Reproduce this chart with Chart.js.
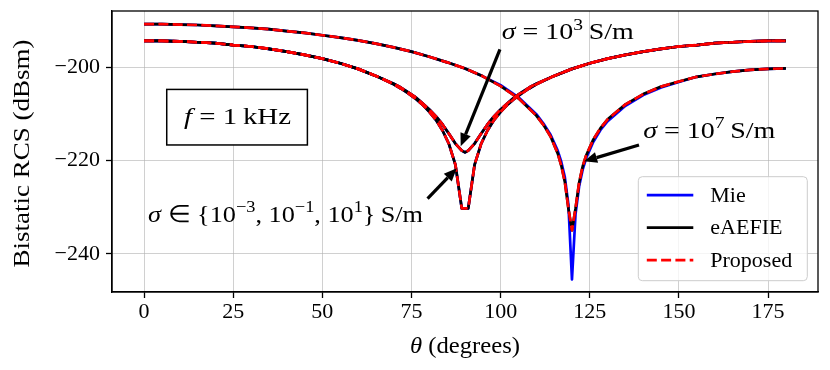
<!DOCTYPE html>
<html>
<head>
<meta charset="utf-8">
<script src="https://cdn.jsdelivr.net/npm/chart.js@4.4.0/dist/chart.umd.min.js"></script>
<style>
  html, body { margin: 0; padding: 0; background: #fff; }
</style>
</head>
<body>
<canvas id="rcsChart" width="830" height="370"></canvas>
<script>
// --- Data ---
const thetaTicks = [0, 25, 50, 75, 100, 125, 150, 175];
const rcsTicks = [-240, -220, -200];

// sigma = 1e7 S/m, null near 120 deg
const thetaPec = [0, 5, 10, 15, 20, 25, 30, 35, 40, 45, 50, 55, 60, 65, 70, 75, 80, 85, 90, 95, 100, 105, 110,
    112, 114, 116, 117, 118, 119, 120, 121, 122, 123, 124, 126, 128, 130,
    135, 140, 145, 150, 155, 160, 165, 170, 175, 180];
const aefiePec = [-190.8, -190.8, -190.9, -191.0, -191.2, -191.4, -191.6, -191.9, -192.3, -192.7, -193.2, -193.7,
    -194.3, -195.0, -195.8, -196.7, -197.8, -199.0, -200.3, -202.0, -204.1, -206.7, -210.4,
    -212.4, -214.9, -218.5, -221.1, -224.6, -230.3, -235.0, -230.3, -224.8, -221.3, -218.9, -215.5, -213.1, -211.2,
    -208.0, -205.8, -204.2, -203.1, -202.1, -201.5, -201.0, -200.6, -200.4, -200.3];
const miePec = [-190.8, -190.8, -190.9, -191.0, -191.2, -191.4, -191.6, -191.9, -192.3, -192.7, -193.2, -193.7,
    -194.3, -195.0, -195.8, -196.7, -197.8, -199.0, -200.3, -202.0, -203.9, -206.5, -210.1,
    -212.1, -214.5, -217.9, -220.3, -223.6, -229.5, -245.5, -231.5, -225.6, -222.0, -219.5, -216.0, -213.5, -211.6,
    -208.3, -206.0, -204.4, -203.2, -202.1, -201.5, -201.0, -200.6, -200.4, -200.3];
const proposedPec = aefiePec.slice(); // overlaps eAEFIE everywhere

// lossy spheres, null near 90 deg (all three methods overlap)
const thetaLossy = [0, 5, 10, 15, 20, 25, 30, 35, 40, 45, 50, 55, 60, 65, 70,
    72, 74, 76, 78, 80, 82, 83.7, 85.5, 87.3, 89.1, 90, 90.9, 92.7, 94.5, 96.3,
    98, 100, 102, 104, 106, 108, 110,
    115, 120, 125, 130, 135, 140, 145, 150, 155, 160, 165, 170, 175, 180];
// sigma in {1e-3, 1e-1, 1e1} S/m
const rcsLowSigma = [-194.4, -194.4, -194.5, -194.7, -194.9, -195.3, -195.6, -196.1, -196.7, -197.4, -198.2, -199.2, -200.4, -201.9, -203.7,
    -204.6, -205.6, -206.7, -208.0, -209.6, -211.5, -213.6, -216.5, -220.9, -230.3, -230.3, -230.3, -220.9, -216.5, -213.6,
    -211.5, -209.6, -208.0, -206.7, -205.6, -204.6, -203.7,
    -201.9, -200.4, -199.2, -198.2, -197.4, -196.7, -196.1, -195.6, -195.3, -194.9, -194.7, -194.5, -194.4, -194.4];
// sigma = 1e3 S/m
const rcsSigma1e3 = [-194.4, -194.4, -194.5, -194.7, -194.9, -195.3, -195.6, -196.1, -196.7, -197.4, -198.2, -199.2, -200.4, -201.9, -203.6,
    -204.4, -205.4, -206.4, -207.7, -209.1, -210.7, -212.3, -214.3, -216.4, -217.9, -218.3, -217.9, -216.4, -214.3, -212.3,
    -210.7, -209.1, -207.7, -206.4, -205.4, -204.4, -203.6,
    -201.9, -200.4, -199.2, -198.2, -197.4, -196.7, -196.1, -195.6, -195.3, -194.9, -194.7, -194.5, -194.4, -194.4];

// --- Styling ---
const FONT = "'Liberation Serif', 'Times New Roman', serif";
const GRID = 'rgba(176, 176, 176, 0.6)';

const methods = [
    { key: 'mie', label: 'Mie', color: '#0000ff', dash: [], order: 3 },
    { key: 'aefie', label: 'eAEFIE', color: '#000000', dash: [], order: 2 },
    { key: 'proposed', label: 'Proposed', color: '#ff0000', dash: [10, 4.3], order: 1 }
];

const curves = [
    { theta: thetaPec, mie: miePec, aefie: aefiePec, proposed: proposedPec },
    { theta: thetaLossy, mie: rcsSigma1e3, aefie: rcsSigma1e3, proposed: rcsSigma1e3 },
    { theta: thetaLossy, mie: rcsLowSigma, aefie: rcsLowSigma, proposed: rcsLowSigma }
];

const datasets = [];
methods.forEach(m => {
    curves.forEach(c => {
        datasets.push({
            label: m.label,
            data: c.theta.map((t, i) => ({ x: t, y: c[m.key][i] })),
            borderColor: m.color,
            borderDash: m.dash,
            borderWidth: 2.7,
            borderJoinStyle: 'round',
            pointRadius: 0,
            tension: 0,
            fill: false,
            order: m.order
        });
    });
});

// --- Annotations (placed in data coordinates) ---
const notes = [
    { runs: [{ t: 'σ', it: true }, { t: ' = 10' }, { t: '3', sup: true }, { t: '\u2009S/m' }],
      at: [100.3, -194.1], width: 132, tail: [99.8, -196.2], head: [88.8, -217.0] },
    { runs: [{ t: 'σ', it: true }, { t: ' = 10' }, { t: '7', sup: true }, { t: '\u2009S/m' }],
      at: [140.0, -215.2], width: 132, tail: [138.8, -216.7], head: [123.4, -220.2] },
    { runs: [{ t: 'σ', it: true }, { t: ' \u2208 {10' }, { t: '\u22123', sup: true }, { t: ', 10' },
             { t: '\u22121', sup: true }, { t: ', 10' }, { t: '1', sup: true }, { t: '}\u2009S/m' }],
      at: [1.1, -233.2], width: 275, tail: [79.5, -228.2], head: [87.7, -221.7] }
];

function drawRuns(ctx, runs, x, y, size, targetW, align) {
    const fontFor = r => (r.it ? 'italic ' : '') + (r.sup ? size * 0.7 : size) + 'px ' + FONT;
    let total = 0;
    const widths = runs.map(r => {
        ctx.font = fontFor(r);
        const w = ctx.measureText(r.t).width;
        total += w;
        return w;
    });
    const sx = targetW ? targetW / total : 1;
    ctx.save();
    ctx.translate(align === 'center' ? x - total * sx / 2 : x, y);
    ctx.scale(sx, 1);
    ctx.fillStyle = '#000';
    ctx.textBaseline = 'alphabetic';
    ctx.textAlign = 'left';
    let cx = 0;
    runs.forEach((r, i) => {
        ctx.font = fontFor(r);
        ctx.fillText(r.t, cx, r.sup ? -size * 0.4 : 0);
        cx += widths[i];
    });
    ctx.restore();
}

function drawArrow(ctx, x0, y0, x1, y1) {
    const ang = Math.atan2(y1 - y0, x1 - x0);
    const headLen = 13, headW = 5.5;
    const bx = x1 - headLen * Math.cos(ang), by = y1 - headLen * Math.sin(ang);
    ctx.save();
    ctx.strokeStyle = '#000';
    ctx.fillStyle = '#000';
    ctx.lineWidth = 3.2;
    ctx.beginPath();
    ctx.moveTo(x0, y0);
    ctx.lineTo(bx, by);
    ctx.stroke();
    ctx.beginPath();
    ctx.moveTo(x1, y1);
    ctx.lineTo(bx + headW * Math.sin(ang), by - headW * Math.cos(ang));
    ctx.lineTo(bx - headW * Math.sin(ang), by + headW * Math.cos(ang));
    ctx.closePath();
    ctx.fill();
    ctx.restore();
}

const overlay = {
    id: 'overlay',
    afterDatasetsDraw(chart) {
        const ctx = chart.ctx;
        const xs = chart.scales.x, ys = chart.scales.y;
        const px = v => xs.getPixelForValue(v), py = v => ys.getPixelForValue(v);

        notes.forEach(n => {
            drawRuns(ctx, n.runs, px(n.at[0]), py(n.at[1]), 24, n.width, 'left');
            drawArrow(ctx, px(n.tail[0]), py(n.tail[1]), px(n.head[0]), py(n.head[1]));
        });

        // f = 1 kHz box
        const bx0 = px(6.35), bx1 = px(45.8), by0 = py(-204.8), by1 = py(-216.7);
        ctx.save();
        ctx.fillStyle = '#fff';
        ctx.fillRect(bx0, by0, bx1 - bx0, by1 - by0);
        ctx.strokeStyle = '#000';
        ctx.lineWidth = 1.5;
        ctx.strokeRect(bx0, by0, bx1 - bx0, by1 - by0);
        ctx.restore();
        drawRuns(ctx, [{ t: 'f', it: true }, { t: ' = 1\u2009kHz' }], px(26.2), py(-212.2), 24, 107, 'center');
    },
    afterDraw(chart) {
        const ctx = chart.ctx;
        const ca = chart.chartArea;

        // full frame
        ctx.save();
        ctx.strokeStyle = '#000';
        ctx.lineWidth = 1.3;
        ctx.strokeRect(ca.left, ca.top, ca.right - ca.left, ca.bottom - ca.top);
        ctx.restore();

        // legend box, lower right inside the axes
        const lx1 = ca.right - 10.7, ly1 = ca.bottom - 11.3;
        const lx0 = lx1 - 169, ly0 = ly1 - 104;
        ctx.save();
        ctx.fillStyle = 'rgba(255,255,255,0.8)';
        ctx.strokeStyle = '#cccccc';
        ctx.lineWidth = 1;
        ctx.beginPath();
        ctx.roundRect(lx0, ly0, lx1 - lx0, ly1 - ly0, 4);
        ctx.fill();
        ctx.stroke();
        methods.forEach((m, i) => {
            const yy = ly0 + 18.5 + i * 32.5;
            ctx.strokeStyle = m.color;
            ctx.lineWidth = 2.7;
            ctx.setLineDash(m.dash);
            ctx.beginPath();
            ctx.moveTo(lx0 + 8.5, yy);
            ctx.lineTo(lx0 + 55, yy);
            ctx.stroke();
            ctx.setLineDash([]);
            ctx.fillStyle = '#000';
            ctx.font = '22px ' + FONT;
            ctx.textBaseline = 'middle';
            ctx.textAlign = 'left';
            ctx.fillText(m.label, lx0 + 72, yy + 1);
        });
        ctx.restore();

        // axis titles
        drawRuns(ctx, [{ t: 'θ', it: true }, { t: ' (degrees)' }], (ca.left + ca.right) / 2, 353, 23, 110, 'center');
        ctx.save();
        ctx.translate(29, (ca.top + ca.bottom) / 2 + 2);
        ctx.rotate(-Math.PI / 2);
        drawRuns(ctx, [{ t: 'Bistatic RCS (dBsm)' }], 0, 0, 23, 228, 'center');
        ctx.restore();
    }
};

const tickFont = { family: FONT, size: 22 };

new Chart(document.getElementById('rcsChart'), {
    type: 'line',
    data: { datasets: datasets },
    options: {
        responsive: false,
        animation: false,
        devicePixelRatio: 1,
        layout: { padding: { left: 0, top: 11, right: 12, bottom: 0 } },
        plugins: { legend: { display: false }, tooltip: { enabled: false } },
        scales: {
            x: {
                type: 'linear',
                min: -9,
                max: 189,
                afterBuildTicks: s => { s.ticks = thetaTicks.map(v => ({ value: v })); },
                afterFit: s => { s.height = 78; s.paddingLeft = 0; s.paddingRight = 0; },
                grid: { color: GRID, lineWidth: 1, tickColor: '#000', tickLength: 6, tickWidth: 1.3 },
                border: { color: '#000', width: 1.3 },
                ticks: { font: tickFont, color: '#000', padding: 1, maxRotation: 0, autoSkip: false }
            },
            y: {
                type: 'linear',
                min: -248.2,
                max: -188.0,
                afterBuildTicks: s => { s.ticks = rcsTicks.map(v => ({ value: v })); },
                afterFit: s => { s.width = 112; s.paddingTop = 0; s.paddingBottom = 0; },
                grid: { color: GRID, lineWidth: 1, tickColor: '#000', tickLength: 6, tickWidth: 1.3 },
                border: { color: '#000', width: 1.3 },
                ticks: {
                    font: tickFont, color: '#000', padding: 6,
                    callback: v => String(v).replace('-', '\u2212')
                }
            }
        }
    },
    plugins: [overlay]
});
</script>
</body>
</html>
